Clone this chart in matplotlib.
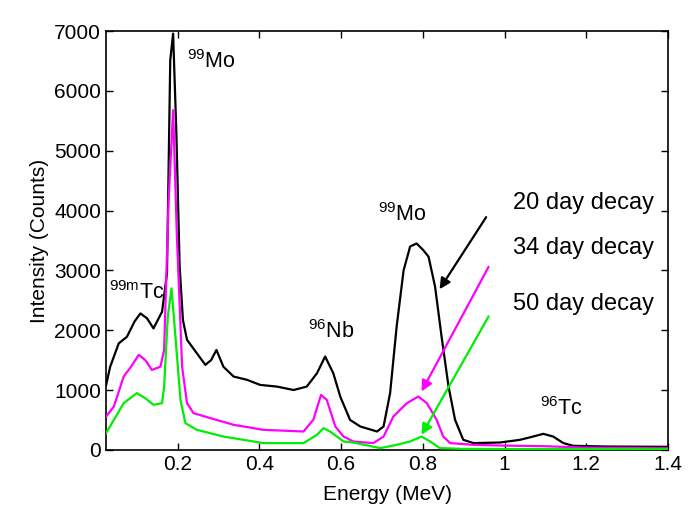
import numpy as np
import matplotlib
matplotlib.use("Agg")
import matplotlib.pyplot as plt

plt.rcParams['font.family'] = ['Liberation Sans', 'DejaVu Sans']
plt.rcParams['mathtext.fontset'] = 'custom'
plt.rcParams['mathtext.rm'] = 'Liberation Sans'
plt.rcParams['mathtext.it'] = 'Liberation Sans'

# 20 day decay spectrum
energy_20 = [0.025, 0.035, 0.056, 0.076, 0.095, 0.109, 0.125, 0.141, 0.162, 0.174, 0.182, 0.189,
             0.197, 0.205, 0.213, 0.223, 0.247, 0.268, 0.282, 0.295, 0.312, 0.337, 0.37, 0.402,
             0.443, 0.484, 0.516, 0.541, 0.561, 0.581, 0.598, 0.622, 0.647, 0.688, 0.704, 0.72,
             0.736, 0.753, 0.769, 0.785, 0.801, 0.814, 0.83, 0.846, 0.863, 0.879, 0.899, 0.924,
             0.989, 1.038, 1.07, 1.095, 1.119, 1.144, 1.168, 1.25, 1.4]
counts_20 = [1080, 1390, 1780, 1890, 2150, 2280, 2200, 2030, 2310, 2950, 6515, 6960,
             5290, 3060, 2170, 1840, 1615, 1420, 1500, 1670, 1390, 1225, 1170, 1085,
             1057, 1000, 1057, 1280, 1560, 1280, 890, 500, 390, 306, 390, 947,
             2060, 3000, 3400, 3450, 3340, 3230, 2730, 1890, 1057, 500, 167, 112,
             122, 167, 222, 267, 222, 112, 67, 55, 50]

# 34 day decay spectrum
energy_34 = [0.025, 0.044, 0.068, 0.085, 0.105, 0.121, 0.137, 0.158, 0.167, 0.178, 0.189, 0.198,
             0.211, 0.223, 0.239, 0.28, 0.337, 0.41, 0.508, 0.532, 0.551, 0.565, 0.586, 0.606,
             0.63, 0.679, 0.704, 0.728, 0.761, 0.789, 0.81, 0.834, 0.85, 0.867, 0.924, 1.0,
             1.1, 1.2, 1.4]
counts_34 = [557, 723, 1225, 1380, 1587, 1500, 1336, 1390, 1670, 4175, 5680, 3620,
             1390, 780, 613, 530, 418, 334, 306, 500, 918, 835, 390, 222,
             139, 112, 222, 557, 780, 890, 780, 500, 222, 112, 83, 70,
             60, 35, 25]

# 50 day decay spectrum
energy_50 = [0.025, 0.044, 0.068, 0.1, 0.121, 0.141, 0.162, 0.167, 0.176, 0.185, 0.194, 0.207,
             0.219, 0.247, 0.312, 0.41, 0.508, 0.541, 0.557, 0.573, 0.606, 0.63, 0.696, 0.736,
             0.769, 0.797, 0.818, 0.842, 0.9, 1.4]
counts_50 = [278, 500, 780, 947, 863, 752, 780, 1057, 2227, 2700, 1950, 835,
             446, 334, 222, 112, 112, 250, 362, 306, 139, 122, 28, 83,
             139, 222, 139, 28, 15, 10]

peak_labels = [r'$^{99}$Mo', r'$^{99m}$Tc', r'$^{96}$Nb', r'$^{99}$Mo', r'$^{96}$Tc']
peak_pos = [(0.223, 6380), (0.031, 2530), (0.52, 1870), (0.691, 3830), (1.087, 585)]

decay_labels = ['20 day decay', '34 day decay', '50 day decay']
decay_text_y = [4120, 3380, 2430]
arrow_start = [(0.955, 3890), (0.961, 3060), (0.961, 2230)]
arrow_end = [(0.841, 2685), (0.797, 975), (0.797, 250)]
colors = ['black', '#ff00ff', '#00ee00']

fig = plt.figure(figsize=(6.98, 5.2), dpi=100)
ax = fig.add_axes([0.152, 0.135, 0.805, 0.805])

for e, c, col in zip([energy_20, energy_34, energy_50], [counts_20, counts_34, counts_50], colors):
    ax.plot(e, c, color=col, lw=1.6, zorder=3)

for lab, (x, y) in zip(peak_labels, peak_pos):
    ax.text(x, y, lab, fontsize=15.5, ha='left', va='baseline', zorder=1)

for lab, ty in zip(decay_labels, decay_text_y):
    ax.text(1.02, ty, lab, fontsize=17, ha='left', va='center')

for s, t, col in zip(arrow_start, arrow_end, colors):
    ax.annotate('', xy=t, xytext=s,
                arrowprops=dict(arrowstyle='-|>', color=col, lw=1.6,
                                mutation_scale=16, shrinkA=0, shrinkB=0))

ax.set_xlim(0.025, 1.4)
ax.set_ylim(0, 7000)
ax.set_xticks([0.2, 0.4, 0.6, 0.8, 1, 1.2, 1.4])
ax.set_xticklabels(['0.2', '0.4', '0.6', '0.8', '1', '1.2', '1.4'])
ax.set_yticks(np.arange(0, 7001, 1000))
ax.tick_params(direction='in', top=True, right=True, labelsize=15, length=5, width=1)
for sp in ax.spines.values():
    sp.set_linewidth(1.2)
ax.set_xlabel('Energy (MeV)', fontsize=15, labelpad=8)
ax.set_ylabel('Intensity (Counts)', fontsize=15, labelpad=4)

fig.savefig('out.png', dpi=100)
